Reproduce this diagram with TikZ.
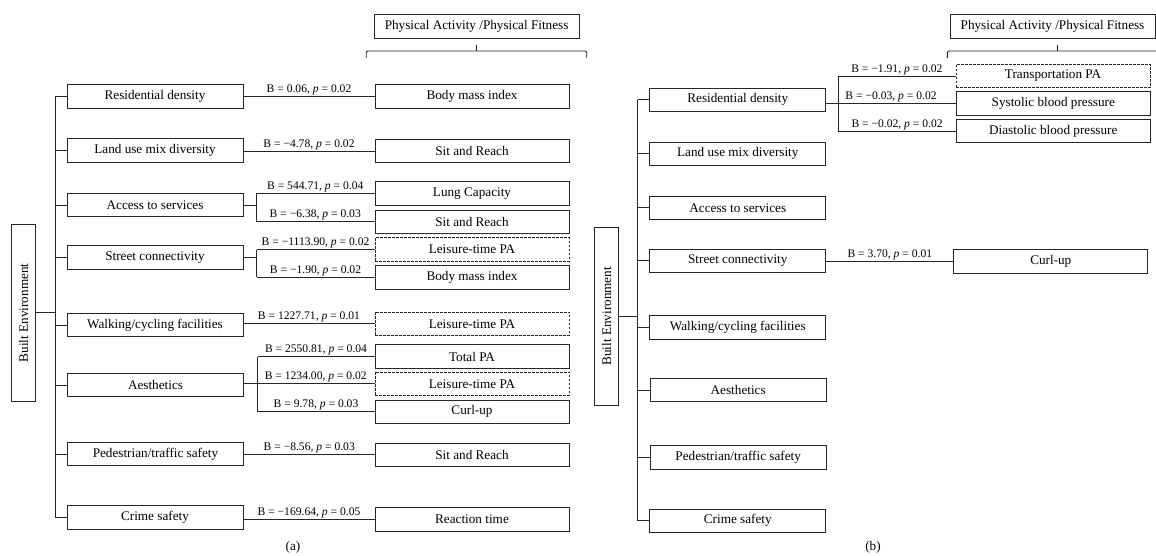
\documentclass[tikz,border=0pt]{standalone}
\usepackage{fontspec}
\setmainfont{Liberation Serif}
\begin{document}
\tikzset{
  box/.style={draw=black!85, line width=0.9pt, minimum width=176pt, minimum height=23.5pt, inner sep=0pt, font=\fontsize{13.2}{15}\selectfont},
  rbox/.style={box, minimum width=194pt},
  dbox/.style={rbox, dash pattern=on 2.5pt off 1.5pt},
  hbox/.style={box, minimum width=205pt, minimum height=23.6pt},
  bebox/.style={box, rotate=90, minimum width=177.5pt, minimum height=23.4pt},
  conn/.style={draw=black!85, line width=0.9pt},
  lab/.style={above, inner sep=1pt, font=\fontsize{11.6}{13}\selectfont},
  captext/.style={inner sep=0pt, font=\fontsize{13.2}{15}\selectfont},
}
\begin{tikzpicture}[x=1pt,y=-1pt]
\clip (0,0) rectangle (1156,555);
% ================= Panel (a) =================
\node[hbox] (ah) at (476.6,26.5) {Physical Activity /Physical Fitness};
\coordinate (abl) at (366.2,58);
\coordinate (abc) at (476.5,51);
\coordinate (abr) at (586.7,58);
\coordinate (abt) at (476.5,45);
\draw[conn, rounded corners=2pt] (abl) |- (abc) -| (abr);
\draw[conn] (abc) -- (abt);

\node[bebox] (abe) at (23.6,312.8) {Built Environment};

\node[box] (a1) at (155,96.3) {Residential density};
\node[box] (a2) at (155,150.5) {Land use mix diversity};
\node[box] (a3) at (155,205) {Access to services};
\node[box] (a4) at (155,257.5) {Street connectivity};
\node[box] (a5) at (155,325) {Walking/cycling facilities};
\node[box] (a6) at (155.5,385) {Aesthetics};
\node[box] (a7) at (155.5,454) {Pedestrian/traffic safety};
\node[box] (a8) at (155,517.5) {Crime safety};

\node[rbox] (a1r) at (472,96.5) {Body mass index};
\node[rbox] (a2r) at (472,151) {Sit and Reach};
\node[rbox] (a3r1) at (472,193.3) {Lung Capacity};
\node[rbox] (a3r2) at (472,221.8) {Sit and Reach};
\node[dbox] (a4r1) at (472,249.5) {Leisure-time PA};
\node[rbox] (a4r2) at (472,277.3) {Body mass index};
\node[dbox] (a5r) at (472,323.7) {Leisure-time PA};
\node[rbox] (a6r1) at (472,356.5) {Total PA};
\node[dbox] (a6r2) at (472,383.7) {Leisure-time PA};
\node[rbox] (a6r3) at (472,411.7) {Curl-up};
\node[rbox] (a7r) at (472,454.7) {Sit and Reach};
\node[rbox] (a8r) at (472,519.5) {Reaction time};

% trunk
\coordinate (at) at (55,0);
\draw[conn] (at |- a1.west) -- (at |- a8.west);
\foreach \n in {a1,a2,a3,a4,a5,a6,a7,a8}
  \draw[conn] (at |- \n.west) -- (\n.west);
\draw[conn] (abe.south) -- (at |- abe.south);

% single links
\draw[conn] (a1.east |- a1r.west) -- node[lab] {B = 0.06, \textit{p} = 0.02} (a1r.west);
\draw[conn] (a2.east |- a2r.west) -- node[lab] {B = −4.78, \textit{p} = 0.02} (a2r.west);
\draw[conn] (a5.east |- a5r.west) -- node[lab] {B = 1227.71, \textit{p} = 0.01} (a5r.west);
\draw[conn] (a7.east |- a7r.west) -- node[lab] {B = −8.56, \textit{p} = 0.03} (a7r.west);
\draw[conn] (a8.east |- a8r.west) -- node[lab] {B = −169.64, \textit{p} = 0.05} (a8r.west);

% access to services
\coordinate (a3b) at (256,205);
\draw[conn] (a3.east) -- (a3b);
\draw[conn] (a3b |- a3r1.west) -- (a3b |- a3r2.west);
\draw[conn] (a3b |- a3r1.west) -- node[lab] {B = 544.71, \textit{p} = 0.04} (a3r1.west);
\draw[conn] (a3b |- a3r2.west) -- node[lab] {B = −6.38, \textit{p} = 0.03} (a3r2.west);

% street connectivity
\coordinate (a4b) at (256.5,257.5);
\draw[conn] (a4.east) -- (a4b);
\draw[conn] (a4b |- a4r1.west) -- (a4b |- a4r2.west);
\draw[conn] (a4b |- a4r1.west) -- node[lab] {B = −1113.90, \textit{p} = 0.02} (a4r1.west);
\draw[conn] (a4b |- a4r2.west) -- node[lab] {B = −1.90, \textit{p} = 0.02} (a4r2.west);

% aesthetics
\coordinate (a6b) at (257.5,383.7);
\draw[conn] (a6.east |- a6r2.west) -- node[lab, pos=0.55] {B = 1234.00, \textit{p} = 0.02} (a6r2.west);
\draw[conn] (a6b |- a6r1.west) -- (a6b |- a6r3.west);
\draw[conn] (a6b |- a6r1.west) -- node[lab] {B = 2550.81, \textit{p} = 0.04} (a6r1.west);
\draw[conn] (a6b |- a6r3.west) -- node[lab] {B = 9.78, \textit{p} = 0.03} (a6r3.west);

\node[captext] (capa) at (293,547) {(a)};

% ================= Panel (b) =================
\node[hbox] (bh) at (1052.5,26.5) {Physical Activity /Physical Fitness};
\coordinate (bbl) at (947.4,58);
\coordinate (bbc) at (1057.6,51);
\coordinate (bbr) at (1168,58);
\coordinate (bbt) at (1057.6,45);
\draw[conn, rounded corners=2pt] (bbl) |- (bbc) -| (bbr);
\draw[conn] (bbc) -- (bbt);

\node[bebox] (bbe) at (606.5,316.2) {Built Environment};

\node[box] (b1) at (737.8,99.8) {Residential density};
\node[box] (b2) at (737.8,153.7) {Land use mix diversity};
\node[box] (b3) at (737.8,207.8) {Access to services};
\node[box] (b4) at (737.8,260.8) {Street connectivity};
\node[box] (b5) at (737.8,327.5) {Walking/cycling facilities};
\node[box] (b6) at (738.2,390) {Aesthetics};
\node[box] (b7) at (738.2,457.5) {Pedestrian/traffic safety};
\node[box] (b8) at (737.8,520.7) {Crime safety};

\node[dbox] (b1r1) at (1053,76) {Transportation PA};
\node[rbox] (b1r2) at (1053.3,103.2) {Systolic blood pressure};
\node[rbox] (b1r3) at (1053.3,131) {Diastolic blood pressure};
\node[rbox] (b4r) at (1050.8,261.5) {Curl-up};

% trunk
\coordinate (bt) at (637.5,0);
\draw[conn] (bt |- b1.west) -- (bt |- b8.west);
\foreach \n in {b1,b2,b3,b4,b5,b6,b7,b8}
  \draw[conn] (bt |- \n.west) -- (\n.west);
\draw[conn] (bbe.south) -- (bt |- bbe.south);

% residential density branch
\coordinate (b1b) at (838.3,103.2);
\draw[conn] (b1.east |- b1r2.west) -- node[lab, pos=0.5] {B = −0.03, \textit{p} = 0.02} (b1r2.west);
\draw[conn] (b1b |- b1r1.west) -- (b1b |- b1r3.west);
\draw[conn] (b1b |- b1r1.west) -- node[lab] {B = −1.91, \textit{p} = 0.02} (b1r1.west);
\draw[conn] (b1b |- b1r3.west) -- node[lab] {B = −0.02, \textit{p} = 0.02} (b1r3.west);

% street connectivity
\draw[conn] (b4.east |- b4r.west) -- node[lab] {B = 3.70, \textit{p} = 0.01} (b4r.west);

\node[captext] (capb) at (873,547) {(b)};
\end{tikzpicture}
\end{document}
